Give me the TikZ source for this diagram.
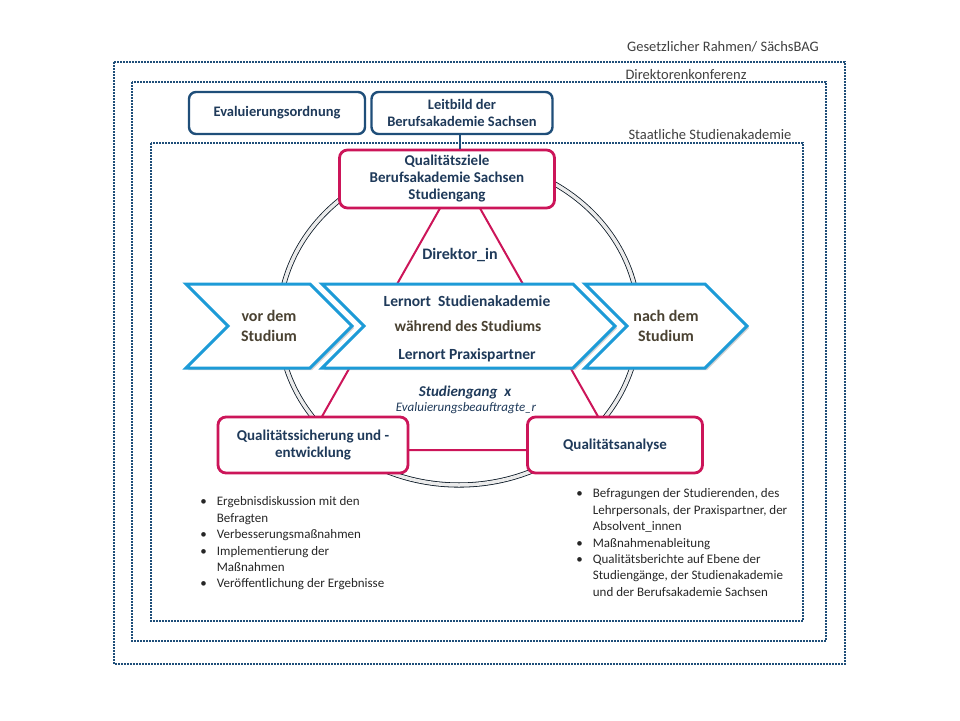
\documentclass[tikz,border=0pt]{standalone}
\usepackage{fontspec}
\setmainfont{Carlito}
\usetikzlibrary{shapes.symbols,shadows}
\definecolor{frameblue}{HTML}{1F4E79}
\definecolor{crimson}{HTML}{CC1559}
\definecolor{chevblue}{HTML}{1D9BD7}
\definecolor{navy}{HTML}{1F3A5A}
\definecolor{olive}{HTML}{4A4232}
\definecolor{labelgray}{HTML}{3F3F3F}

\begin{document}
\begin{tikzpicture}[x=1pt,y=-1pt,thick,
    frame/.style={draw=frameblue,line width=1.6pt,dash pattern=on 1.6pt off 1.4pt},
    framelabel/.style={font=\fontsize{14.5}{16}\selectfont,text=labelgray,inner sep=0pt},
    topbox/.style={draw=frameblue,line width=2.4pt,rounded corners=7pt,fill=white,align=center,
        font=\bfseries\fontsize{14.5}{17}\selectfont,text=navy,inner sep=0pt},
    redbox/.style={draw=crimson,line width=2.8pt,rounded corners=8pt,fill=white,align=center,
        font=\bfseries\fontsize{15}{17}\selectfont,text=navy,inner sep=0pt},
    chevron/.style={signal,signal from=west,signal to=east,signal pointer angle=90,
        draw=chevblue,line width=3pt,fill=white,minimum height=84pt,inner sep=0pt,align=center,
        font=\bfseries\fontsize{16}{20}\selectfont,text=olive,
        drop shadow={shadow xshift=2pt,shadow yshift=-2pt,fill=black!35}},
    midtext/.style={font=\bfseries\fontsize{15.5}{18}\selectfont},
    triline/.style={draw=crimson,line width=2pt},
    listtext/.style={font=\fontsize{13}{16.4}\selectfont,text=black!85,inner sep=0pt,anchor=north west}]

\useasboundingbox (0,0) rectangle (960,720);

% frames
\draw[frame] (114,62) rectangle (845,664);
\draw[frame] (132,82) rectangle (826,641);
\draw[frame] (151,143) rectangle (803,621);
\node[framelabel] (gesetz) at (723,47) {Gesetzlicher Rahmen/ SächsBAG};
\node[framelabel] (dkonf) at (686,75) {Direktorenkonferenz};
\node[framelabel] (staatl) at (710,135) {Staatliche Studienakademie};

% ring
\draw[draw=black!70!frameblue,line width=0.8pt,double=black!8,double distance=3.5pt] (459,322) ellipse [x radius=180,y radius=163];

% triangle
\coordinate (apex) at (460,173);
\coordinate (left) at (303,450);
\coordinate (right) at (617,450);
\draw[triline] (apex) -- (left) -- (right) -- cycle;

% chevrons
\node[chevron,minimum width=166pt] (vor) at (269,326) {vor dem\\Studium};
\node[chevron,minimum width=293pt] (mid) at (468.5,326) {};
\node[chevron,minimum width=162pt] (nach) at (666,326) {nach dem\\Studium};
\node[midtext,text=navy] (lsa) at (467,301) {Lernort\ \ Studienakademie};
\node[midtext,text=olive] (wds) at (468,326) {während des Studiums};
\node[midtext,text=navy] (lpp) at (467,355) {Lernort Praxispartner};

% texts in the ring
\node[font=\bfseries\fontsize{16}{18}\selectfont,text=navy] (dir) at (460,255) {Direktor\_in};
\node[font=\bfseries\itshape\fontsize{15}{17}\selectfont,text=navy] (sgx) at (465,392) {Studiengang\ \ x};
\node[font=\itshape\fontsize{13}{15}\selectfont,text=navy] (eb) at (466,408) {Evaluierungsbeauftragte\_r};

% boxes
\node[topbox,minimum width=176pt,minimum height=42pt] (evo) at (277,113) {Evaluierungsordnung};
\node[topbox,minimum width=181pt,minimum height=42pt] (leit) at (462,113) {Leitbild der\\Berufsakademie Sachsen};
\node[redbox,minimum width=215pt,minimum height=58pt] (qz) at (447,179) {Qualitätsziele\\Berufsakademie Sachsen\\Studiengang};
\node[redbox,minimum width=190pt,minimum height=56pt] (qs) at (313,445) {Qualitätssicherung und -\\entwicklung};
\node[redbox,minimum width=175pt,minimum height=56pt] (qa) at (615,445) {Qualitätsanalyse};
\draw[draw=frameblue,line width=2.4pt] (leit.south -| apex) to (qz.north -| apex);

% lists
\node[listtext] (qslist) at (200,494) {\begin{tabular}{@{}l@{\hspace{10pt}}l@{}}
\textbullet & Ergebnisdiskussion mit den\\
 & Befragten\\
\textbullet & Verbesserungsmaßnahmen\\
\textbullet & Implementierung der\\
 & Maßnahmen\\
\textbullet & Veröffentlichung der Ergebnisse
\end{tabular}};
\node[listtext] (qalist) at (576,486) {\begin{tabular}{@{}l@{\hspace{10pt}}l@{}}
\textbullet & Befragungen der Studierenden, des\\
 & Lehrpersonals, der Praxispartner, der\\
 & Absolvent\_innen\\
\textbullet & Maßnahmenableitung\\
\textbullet & Qualitätsberichte auf Ebene der\\
 & Studiengänge, der Studienakademie\\
 & und der Berufsakademie Sachsen
\end{tabular}};
\end{tikzpicture}
\end{document}
